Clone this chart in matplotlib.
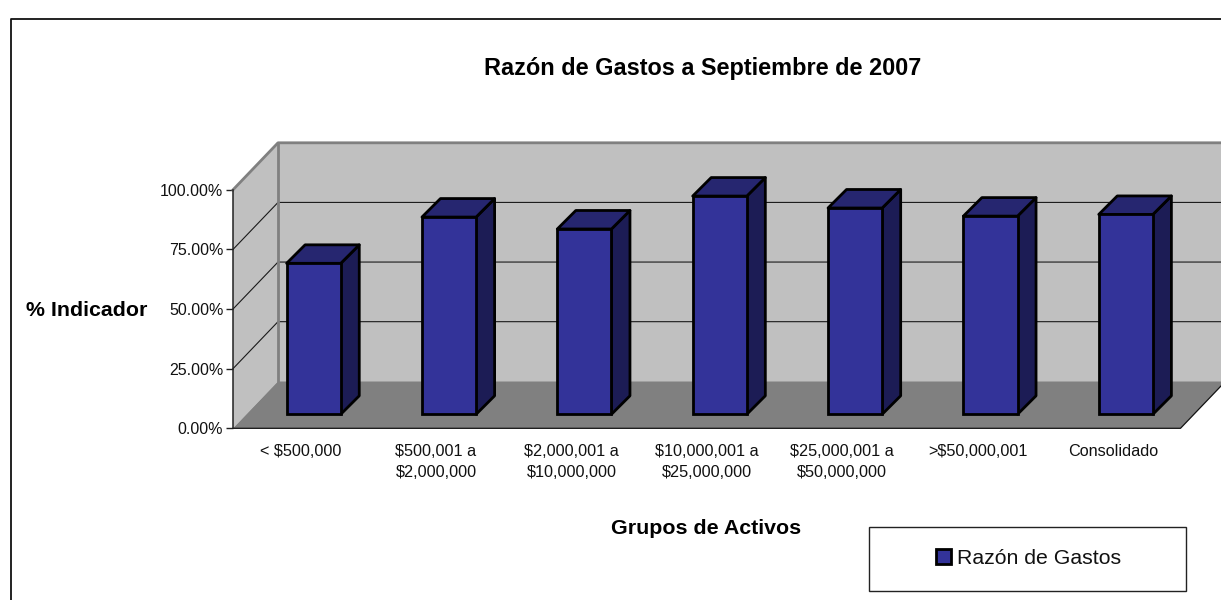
#!/usr/bin/env python3
"""Razon de gastos chart - 3D looking bars drawn on a flat matplotlib axes."""

import matplotlib
matplotlib.use("Agg")
import matplotlib.pyplot as plt
from matplotlib.lines import Line2D
from matplotlib.patches import Patch, Polygon, Rectangle
from matplotlib.transforms import Affine2D, IdentityTransform

categories = [
  "< $500,000",
  "$500,001 a\n$2,000,000",
  "$2,000,001 a\n$10,000,000",
  "$10,000,001 a\n$25,000,000",
  "$25,000,001 a\n$50,000,000",
  ">$50,000,001",
  "Consolidado",
]
razon_gastos = [63.3, 82.7, 77.7, 91.5, 86.5, 83.1, 83.8]
y_ticks = [0, 25, 50, 75, 100]
y_tick_labels = ["0.00%", "25.00%", "50.00%", "75.00%", "100.00%"]

W, H = 1221, 600

# Depth of the fake 3D box and of the bars, in pixels
DEPTH_X, DEPTH_Y = 45, 47
BAR_OFFSET_X, BAR_OFFSET_Y = 13, 14
BAR_DEPTH = 18.5
BAR_WIDTH = 0.4
EDGE = 2.0

FRONT = "#333399"
SIDE = "#1C1C55"
TOP = "#262670"
WALL = "#C0C0C0"
FLOOR = "#808080"

plt.rcParams["font.family"] = ["Liberation Sans", "DejaVu Sans"]

fig = plt.figure(figsize=(W / 100, H / 100), dpi=100)
ax = fig.add_axes([233 / W, 1 - 428.3 / H, (1180.5 - 233) / W, (428.3 - 189.8) / H])
ax.patch.set_visible(False)
ax.set_xlim(-0.5, len(categories) - 0.5)
ax.set_ylim(0, 100)

x_min, x_max = ax.get_xlim()


def pt(x, v, dx=0, dy=0):
  # data point pushed back by some pixels, returned in display coords
  px, py = ax.transData.transform((x, v))
  return (px + dx, py + dy)


def poly(points, **kwargs):
  ax.add_patch(Polygon(points, closed=True, transform=IdentityTransform(), clip_on=False, **kwargs))


def line(points, **kwargs):
  xs = [p[0] for p in points]
  ys = [p[1] for p in points]
  ax.add_line(Line2D(xs, ys, transform=IdentityTransform(), clip_on=False, **kwargs))


def back(x, v):
  return pt(x, v, DEPTH_X, DEPTH_Y)


# Walls and floor
poly([pt(x_min, 0), back(x_min, 0), back(x_max, 0), back(x_max, 100), back(x_min, 100), pt(x_min, 100)],
     facecolor=WALL, edgecolor="none", zorder=1)
poly([pt(x_min, 0), pt(x_max, 0), back(x_max, 0), back(x_min, 0)], facecolor=FLOOR, edgecolor="none", zorder=1)

# Grid lines across the side wall and the back wall
for v in y_ticks[1:-1]:
  line([pt(x_min, v), back(x_min, v), back(x_max, v)], color="#1A1A1A", linewidth=0.8, zorder=2)

line([pt(x_min, 100), back(x_min, 100), back(x_max, 100)], color=FLOOR, linewidth=2.0, zorder=2)
line([back(x_min, 0), back(x_min, 100)], color=FLOOR, linewidth=2.0, zorder=2)
line([pt(x_min, 0), pt(x_max, 0), back(x_max, 0)], color="#111111", linewidth=0.9, zorder=2)

# Bars: front face through the axes, sides and tops follow from the same values
positions = list(range(len(categories)))
shift = Affine2D().translate(BAR_OFFSET_X, BAR_OFFSET_Y)
ax.bar(positions, razon_gastos, width=BAR_WIDTH, color=FRONT, edgecolor="black", linewidth=EDGE,
       transform=ax.transData + shift, clip_on=False, zorder=5)

for pos, val in zip(positions, razon_gastos):
  left = pos - BAR_WIDTH / 2
  right = pos + BAR_WIDTH / 2
  x1, y1 = BAR_OFFSET_X, BAR_OFFSET_Y
  x2, y2 = BAR_OFFSET_X + BAR_DEPTH, BAR_OFFSET_Y + BAR_DEPTH
  poly([pt(right, 0, x1, y1), pt(right, 0, x2, y2), pt(right, val, x2, y2), pt(right, val, x1, y1)],
       facecolor=SIDE, edgecolor="black", linewidth=EDGE, joinstyle="round", zorder=4)
  poly([pt(left, val, x1, y1), pt(right, val, x1, y1), pt(right, val, x2, y2), pt(left, val, x2, y2)],
       facecolor=TOP, edgecolor="black", linewidth=EDGE, joinstyle="round", zorder=4)

# Axes
for side in ["top", "right", "bottom"]:
  ax.spines[side].set_visible(False)
ax.spines["left"].set_color("#222222")
ax.spines["left"].set_linewidth(1.1)
ax.spines["left"].set_zorder(3)

ax.set_yticks(y_ticks)
ax.set_yticklabels(y_tick_labels, fontsize=11.5, color="#111111")
ax.tick_params(axis="y", length=5, width=1.0, color="#222222", pad=2)
ax.set_xticks(positions)
ax.set_xticklabels(categories, fontsize=11.7, color="#111111", linespacing=1.5)
ax.tick_params(axis="x", length=0, pad=11)

fig.text(703 / W, 1 - 69 / H, "Razón de Gastos a Septiembre de 2007", fontsize=16.9, fontweight="bold",
         ha="center", va="center", color="black")
fig.text(86.5 / W, 1 - 310 / H, "% Indicador", fontsize=15.4, fontweight="bold", ha="center", va="center", color="black")
fig.text(706 / W, 1 - 528 / H, "Grupos de Activos", fontsize=15.4, fontweight="bold", ha="center", va="center", color="black")

# Outer chart border, its right and bottom sides fall outside the picture
fig.add_artist(Line2D([11 / W, 11 / W, 1], [0, 1 - 18.5 / H, 1 - 18.5 / H], transform=fig.transFigure,
                      color="#111111", linewidth=1.3))

# Legend
fig.add_artist(Rectangle((869 / W, 1 - 590.7 / H), (1186 - 869) / W, (590.7 - 527) / H, transform=fig.transFigure,
                         facecolor="white", edgecolor="#222222", linewidth=1.0))
handle = Patch(facecolor=FRONT, edgecolor="black", linewidth=EDGE, label="Razón de Gastos")
legend = fig.legend(handles=[handle], loc="center", bbox_to_anchor=(1028.5 / W, 1 - 558.5 / H), frameon=False,
                    fontsize=15.3, handlelength=0.7, handleheight=0.7, handletextpad=0.25, labelcolor="#111111")
legend.set_zorder(10)

fig.savefig("out.png", dpi=100)
plt.close(fig)
